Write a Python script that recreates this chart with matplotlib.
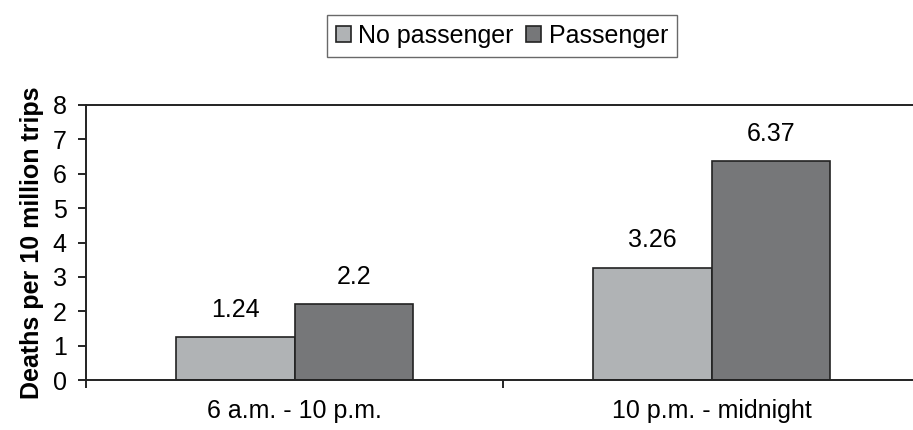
import numpy as np
import matplotlib.pyplot as plt

plt.rcParams['font.family'] = ['Liberation Sans', 'DejaVu Sans']

categories = ['6 a.m. - 10 p.m.', '10 p.m. - midnight']
no_passenger = [1.24, 3.26]
passenger = [2.2, 6.37]
series_names = ['No passenger', 'Passenger']

fig = plt.figure(figsize=(9.13, 4.30), dpi=100)
ax = fig.add_axes([86/913, 1-380/430, 834/913, 275/430])

x = np.arange(len(categories))
w = 0.285
b1 = ax.bar(x - w/2, no_passenger, w, color='#b0b3b5', edgecolor='#222222', linewidth=1.2, label=series_names[0])
b2 = ax.bar(x + w/2, passenger, w, color='#767779', edgecolor='#222222', linewidth=1.2, label=series_names[1])

for bars, vals in ((b1, no_passenger), (b2, passenger)):
    for r, v in zip(bars, vals):
        ax.text(r.get_x() + r.get_width()/2, v + 0.45, '%g' % v, ha='center', va='bottom', fontsize=18)

ax.set_xlim(-0.5, 1.5)
ax.set_ylim(0, 8)
ax.set_yticks(range(0, 9))
ax.set_xticks(x)
ax.set_xticklabels(categories, fontsize=18)
ax.set_xticks([-0.5, 0.5, 1.5], minor=True)
ax.tick_params(axis='x', which='major', length=0, pad=14)
ax.tick_params(axis='x', which='minor', length=6, width=1.2, direction='out')
ax.tick_params(axis='y', length=6, width=1.2, labelsize=18, pad=8)
for s in ax.spines.values():
    s.set_linewidth(1.4)
    s.set_color('#222222')
ax.spines['right'].set_visible(False)

ax.set_ylabel('Deaths per 10 million trips', fontsize=18, fontweight='bold', labelpad=6)

leg = fig.legend(handles=[b1, b2], loc='center', bbox_to_anchor=(502/913, 1-36/430), ncol=2,
                 fontsize=18, frameon=True, fancybox=False, edgecolor='#444444',
                 handlelength=0.6, handleheight=0.6, handletextpad=0.3, columnspacing=0.5,
                 borderpad=0.35)
leg.get_frame().set_linewidth(1.0)

fig.savefig('out.png', dpi=100)
